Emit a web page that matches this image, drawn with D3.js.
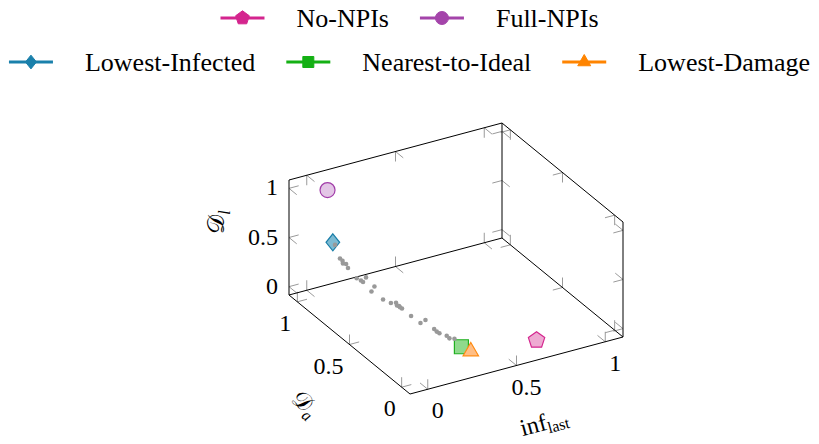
<!DOCTYPE html>
<html>
<head>
<meta charset="utf-8">
<script src="https://cdn.jsdelivr.net/npm/d3@7"></script>
<style>
  body { margin: 0; background: #fff; }
  svg { display: block; }
  text { font-family: "Liberation Serif", "Times New Roman", serif; fill: #000; }
</style>
</head>
<body>
<svg id="chart" width="819" height="444"></svg>
<script>
// Pareto front found by the optimiser: (inf_last, D_a, D_l) per solution
const frontInf = [0.104, 0.112, 0.117, 0.117, 0.123, 0.126, 0.141, 0.148, 0.152, 0.157, 0.171, 0.166, 0.186, 0.199,
                  0.208, 0.210, 0.215, 0.218, 0.213, 0.234, 0.250, 0.258, 0.273, 0.278, 0.282, 0.295, 0.299, 0.308];
const frontDa  = [0.986, 0.952, 0.936, 0.932, 0.912, 0.899, 0.841, 0.812, 0.799, 0.779, 0.722, 0.742, 0.665, 0.612,
                  0.578, 0.572, 0.552, 0.538, 0.558, 0.478, 0.415, 0.381, 0.323, 0.307, 0.288, 0.240, 0.221, 0.188];
const frontDl  = [0.408, 0.295, 0.282, 0.259, 0.269, 0.238, 0.177, 0.176, 0.170, 0.231, 0.182, 0.116, 0.092, 0.096,
                  0.123, 0.100, 0.097, 0.095, 0.105, 0.063, 0.039, 0.094, 0.046, 0.031, 0.029, 0.039, 0.027, 0.047];

// Highlighted strategies
const strategyNames = ["No-NPIs", "Full-NPIs", "Lowest-Infected", "Nearest-to-Ideal", "Lowest-Damage"];
const strategyInf   = [0.66, 0.07, 0.10, 0.32, 0.336];
const strategyDa    = [0.0, 1.0, 1.0, 0.142, 0.079];
const strategyDl    = [0.025, 0.97, 0.424, 0.0, 0.0];

const tickValues = [0, 0.5, 1];
const tickLabels = ["0", "0.5", "1"];

// ---- styling ----
const serif = "'Liberation Serif', 'Times New Roman', serif";
const strategyStyle = {
  "No-NPIs":          { shape: "pentagon", line: "#d4258e", fill: "#eeaad2", stroke: "#d4258e" },
  "Full-NPIs":        { shape: "circle",   line: "#a444aa", fill: "#e3c6e6", stroke: "#a13ca8" },
  "Lowest-Infected":  { shape: "diamond",  line: "#1a80ab", fill: "#7dbad2", stroke: "#1a7ea8" },
  "Nearest-to-Ideal": { shape: "square",   line: "#14b014", fill: "#8fd98c", stroke: "#1fb01f" },
  "Lowest-Damage":    { shape: "triangle", line: "#ff8400", fill: "#ffbe85", stroke: "#ff8a10" }
};

function markerPath(shape, s) {
  const p = d3.path();
  const poly = pts => { pts.forEach((q, i) => i ? p.lineTo(q[0], q[1]) : p.moveTo(q[0], q[1])); p.closePath(); };
  if (shape === "circle") { p.arc(0, 0, s, 0, 2 * Math.PI); }
  else if (shape === "square") { poly([[-s, -s], [s, -s], [s, s], [-s, s]]); }
  else if (shape === "diamond") { poly([[0, -s * 1.25], [s, 0], [0, s * 1.25], [-s, 0]]); }
  else if (shape === "triangle") {
    poly([0, 1, 2].map(k => { const a = -Math.PI / 2 + k * 2 * Math.PI / 3; return [s * Math.cos(a), s * Math.sin(a)]; }));
  } else if (shape === "pentagon") {
    poly([0, 1, 2, 3, 4].map(k => { const a = -Math.PI / 2 + k * 2 * Math.PI / 5; return [s * Math.cos(a), s * Math.sin(a)]; }));
  }
  return p.toString();
}
const plotSize = { circle: 7.5, square: 7, diamond: 6.8, triangle: 8.9, pentagon: 8.6 };
const legendSize = { circle: 6.5, square: 5.5, diamond: 5.5, triangle: 7.5, pentagon: 7.2 };

// ---- 3D box projection ----
const origin = [410, 394];          // corner (x min, y min, z min)
const axisVec = [[213, -57], [-121, -99], [0, -115]];
const xScale = d3.scaleLinear().domain([-0.1, 1.1]).range([0, 1]);
const yScale = d3.scaleLinear().domain([-0.08, 1.08]).range([0, 1]);
const zScale = d3.scaleLinear().domain([-0.085, 1.085]).range([0, 1]);
const scales = [xScale, yScale, zScale];

function fracToScreen(f) {
  return [origin[0] + f[0] * axisVec[0][0] + f[1] * axisVec[1][0] + f[2] * axisVec[2][0],
          origin[1] + f[0] * axisVec[0][1] + f[1] * axisVec[1][1] + f[2] * axisVec[2][1]];
}
const project = (x, y, z) => fracToScreen([xScale(x), yScale(y), zScale(z)]);
const unit = axisVec.map(v => { const l = Math.hypot(v[0], v[1]); return [v[0] / l, v[1] / l]; });

const svg = d3.select("#chart");

// box edges that are drawn, with ticks pointing into the box
const edges = [
  { axis: 0, fixed: [null, 0, 0] }, { axis: 0, fixed: [null, 1, 0] }, { axis: 0, fixed: [null, 1, 1] },
  { axis: 1, fixed: [0, null, 0] }, { axis: 1, fixed: [1, null, 0] }, { axis: 1, fixed: [1, null, 1] },
  { axis: 2, fixed: [0, 1, null] }, { axis: 2, fixed: [1, 1, null] }, { axis: 2, fixed: [1, 0, null] }
];
const tickLen = 10;
const tickG = svg.append("g").attr("stroke", "#9a9a9a").attr("stroke-width", 1).attr("fill", "none");
const edgeG = svg.append("g").attr("stroke", "#000").attr("stroke-width", 1).attr("fill", "none");

edges.forEach(e => {
  const a = e.fixed.slice(); a[e.axis] = 0;
  const b = e.fixed.slice(); b[e.axis] = 1;
  const pa = fracToScreen(a), pb = fracToScreen(b);
  tickValues.forEach(t => {
    const f = e.fixed.slice(); f[e.axis] = scales[e.axis](t);
    const p = fracToScreen(f);
    [0, 1, 2].filter(k => k !== e.axis).forEach(k => {
      const sgn = e.fixed[k] === 0 ? 1 : -1;
      tickG.append("line")
        .attr("x1", p[0]).attr("y1", p[1])
        .attr("x2", p[0] + sgn * unit[k][0] * tickLen).attr("y2", p[1] + sgn * unit[k][1] * tickLen);
    });
  });
  edgeG.append("line").attr("x1", pa[0]).attr("y1", pa[1]).attr("x2", pb[0]).attr("y2", pb[1]);
});

// tick labels
const labelG = svg.append("g").attr("font-size", 24).style("font-family", serif);
tickValues.forEach((t, i) => {
  const px = project(t, yScale.domain()[0], zScale.domain()[0]);
  labelG.append("text").attr("x", px[0] + 10).attr("y", px[1] + 29).attr("text-anchor", "middle").text(tickLabels[i]);
  const py = project(xScale.domain()[0], t, zScale.domain()[0]);
  labelG.append("text").attr("x", py[0] - 6).attr("y", py[1] + 29).attr("text-anchor", "end").text(tickLabels[i]);
  const pz = project(xScale.domain()[0], yScale.domain()[1], t);
  labelG.append("text").attr("x", pz[0] - 11).attr("y", pz[1] + 7).attr("text-anchor", "end").text(tickLabels[i]);
});

// axis titles
const mathFont = "'DejaVu Serif', 'DejaVu Sans', serif";
const zTitle = svg.append("text").attr("transform", "translate(224,222) rotate(-90)")
  .attr("text-anchor", "middle").attr("font-size", 24);
zTitle.append("tspan").style("font-family", mathFont).text("𝒟");
zTitle.append("tspan").attr("dy", 6).attr("font-size", 16).attr("font-style", "italic").text("l");

const yTitle = svg.append("text").attr("transform", "translate(300,409) rotate(39)")
  .attr("text-anchor", "middle").attr("font-size", 24);
yTitle.append("tspan").style("font-family", mathFont).text("𝒟");
yTitle.append("tspan").attr("dy", 6).attr("font-size", 16).attr("font-style", "italic").text("a");

const xTitle = svg.append("text").attr("transform", "translate(546,430) rotate(-15)")
  .attr("text-anchor", "middle").attr("font-size", 24);
xTitle.append("tspan").text("inf");
xTitle.append("tspan").attr("dy", 4).attr("font-size", 16).text("last");

// highlighted strategies (front points on top)
const markG = svg.append("g");
const drawOrder = [1, 2, 0, 3, 4];
drawOrder.forEach(i => {
  const st = strategyStyle[strategyNames[i]];
  const p = project(strategyInf[i], strategyDa[i], strategyDl[i]);
  markG.append("path").attr("d", markerPath(st.shape, plotSize[st.shape]))
    .attr("transform", `translate(${p[0]},${p[1]})`)
    .attr("fill", st.fill).attr("stroke", st.stroke).attr("stroke-width", 1.2);
});

// pareto front solutions
svg.append("g").selectAll("circle").data(frontInf).join("circle")
  .attr("cx", (d, i) => project(frontInf[i], frontDa[i], frontDl[i])[0])
  .attr("cy", (d, i) => project(frontInf[i], frontDa[i], frontDl[i])[1])
  .attr("r", 2.3).attr("fill", "#999");

// legend: two centred rows
const legendRows = [["No-NPIs", "Full-NPIs"], ["Lowest-Infected", "Nearest-to-Ideal", "Lowest-Damage"]];
const rowY = [18, 62];
const lineW = 44, textGap = 32, itemGap = 31;
legendRows.forEach((row, r) => {
  const g = svg.append("g");
  const items = row.map(name => {
    const ig = g.append("g");
    const t = ig.append("text").attr("font-size", 26).style("font-family", serif).attr("y", rowY[r] + 9).text(name);
    return { name, ig, t, w: t.node().getComputedTextLength() };
  });
  const total = d3.sum(items, d => lineW + textGap + d.w) + itemGap * (items.length - 1);
  let x = 409.5 - total / 2;
  items.forEach(it => {
    const st = strategyStyle[it.name];
    it.ig.append("line").attr("x1", x).attr("x2", x + lineW).attr("y1", rowY[r]).attr("y2", rowY[r])
      .attr("stroke", st.line).attr("stroke-width", 3);
    it.ig.append("path").attr("d", markerPath(st.shape, legendSize[st.shape]))
      .attr("transform", `translate(${x + lineW / 2},${rowY[r]})`)
      .attr("fill", st.line).attr("stroke", st.line);
    it.t.attr("x", x + lineW + textGap);
    x += lineW + textGap + it.w + itemGap;
  });
});
</script>
</body>
</html>
